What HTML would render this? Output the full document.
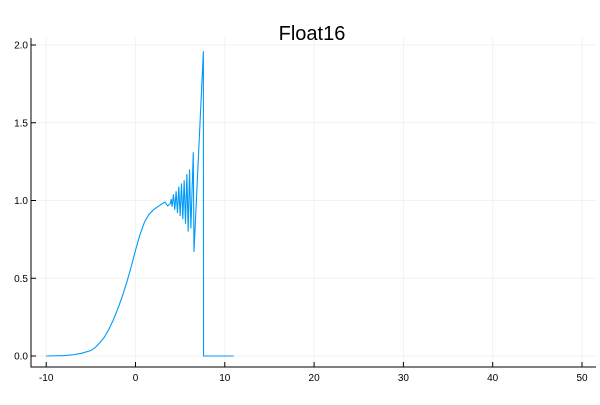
<!DOCTYPE html>
<html><head><meta charset="utf-8"><style>
body{margin:0;background:#fff}
svg text{font-family:"Liberation Sans",sans-serif}
</style></head><body>
<svg id="c" width="600" height="400">
<text x="312" y="40" font-size="20" text-anchor="middle" fill="#000">Float16</text>
</svg>
<script>
const xTicks=[-10,0,10,20,30,40,50];
const yTicks=[0,0.5,1,1.5,2];
const yTickLabels=["0.0","0.5","1.0","1.5","2.0"];
const xs=[-10,-8,-7,-6,-5,-4.5,-4,-3.5,-3,-2.5,-2,-1.5,-1,-0.5,0,0.5,1,1.5,2,2.5,3,3.3,3.6,3.9,4.0,4.1,4.25,4.4,4.55,4.7,4.85,5.0,5.15,5.3,5.45,5.6,5.75,5.9,6.05,6.2,6.47,6.55,7.6,7.62,11];
const ys=[0,0.003,0.008,0.018,0.035,0.055,0.085,0.12,0.17,0.23,0.30,0.38,0.47,0.57,0.68,0.78,0.86,0.91,0.94,0.96,0.98,0.99,0.965,0.98,1.01,0.96,1.04,0.94,1.06,0.92,1.09,0.90,1.11,0.88,1.13,0.85,1.17,0.80,1.20,0.82,1.31,0.67,1.96,0,0];
const svg=document.getElementById('c');
const NS='http://www.w3.org/2000/svg';
const L=31,R=596,T=38,B=367;
const sx=v=>135.5+v*8.93;
const sy=v=>356-v*155.5;
function mk(t,a){const e=document.createElementNS(NS,t);for(const k in a)e.setAttribute(k,a[k]);svg.appendChild(e);return e;}
xTicks.forEach(t=>{
  const g=mk('line',{x1:sx(t),x2:sx(t),y1:T,y2:B,stroke:'#f2f2f2','stroke-width':1});
  
  
  const tk=mk('line',{x1:sx(t),x2:sx(t),y1:B,y2:B-5,stroke:'#000','stroke-width':1});
  
  
  const tx=mk('text',{x:sx(t),y:381,'font-size':10,'text-anchor':'middle',fill:'#000'});
  tx.textContent=t;
  
  
});
yTicks.forEach((t,i)=>{
  const g=mk('line',{x1:L,x2:R,y1:sy(t),y2:sy(t),stroke:'#f2f2f2','stroke-width':1});
  
  
  const tk=mk('line',{x1:L,x2:L+5,y1:sy(t),y2:sy(t),stroke:'#000','stroke-width':1});
  
  
  const tx=mk('text',{x:L-3,y:sy(t)+3.5,'font-size':10,'text-anchor':'end',fill:'#000'});
  tx.textContent=yTickLabels[i];
  
  
});
const ax=mk('path',{d:`M${L} ${T}V${B}H${R}`,stroke:'#000','stroke-width':1,fill:'none'});


const line=mk('polyline',{points:xs.map((x,i)=>sx(x)+','+sy(ys[i])).join(' '),fill:'none',stroke:'#009af9','stroke-width':1.1});


</script>
</body></html>
